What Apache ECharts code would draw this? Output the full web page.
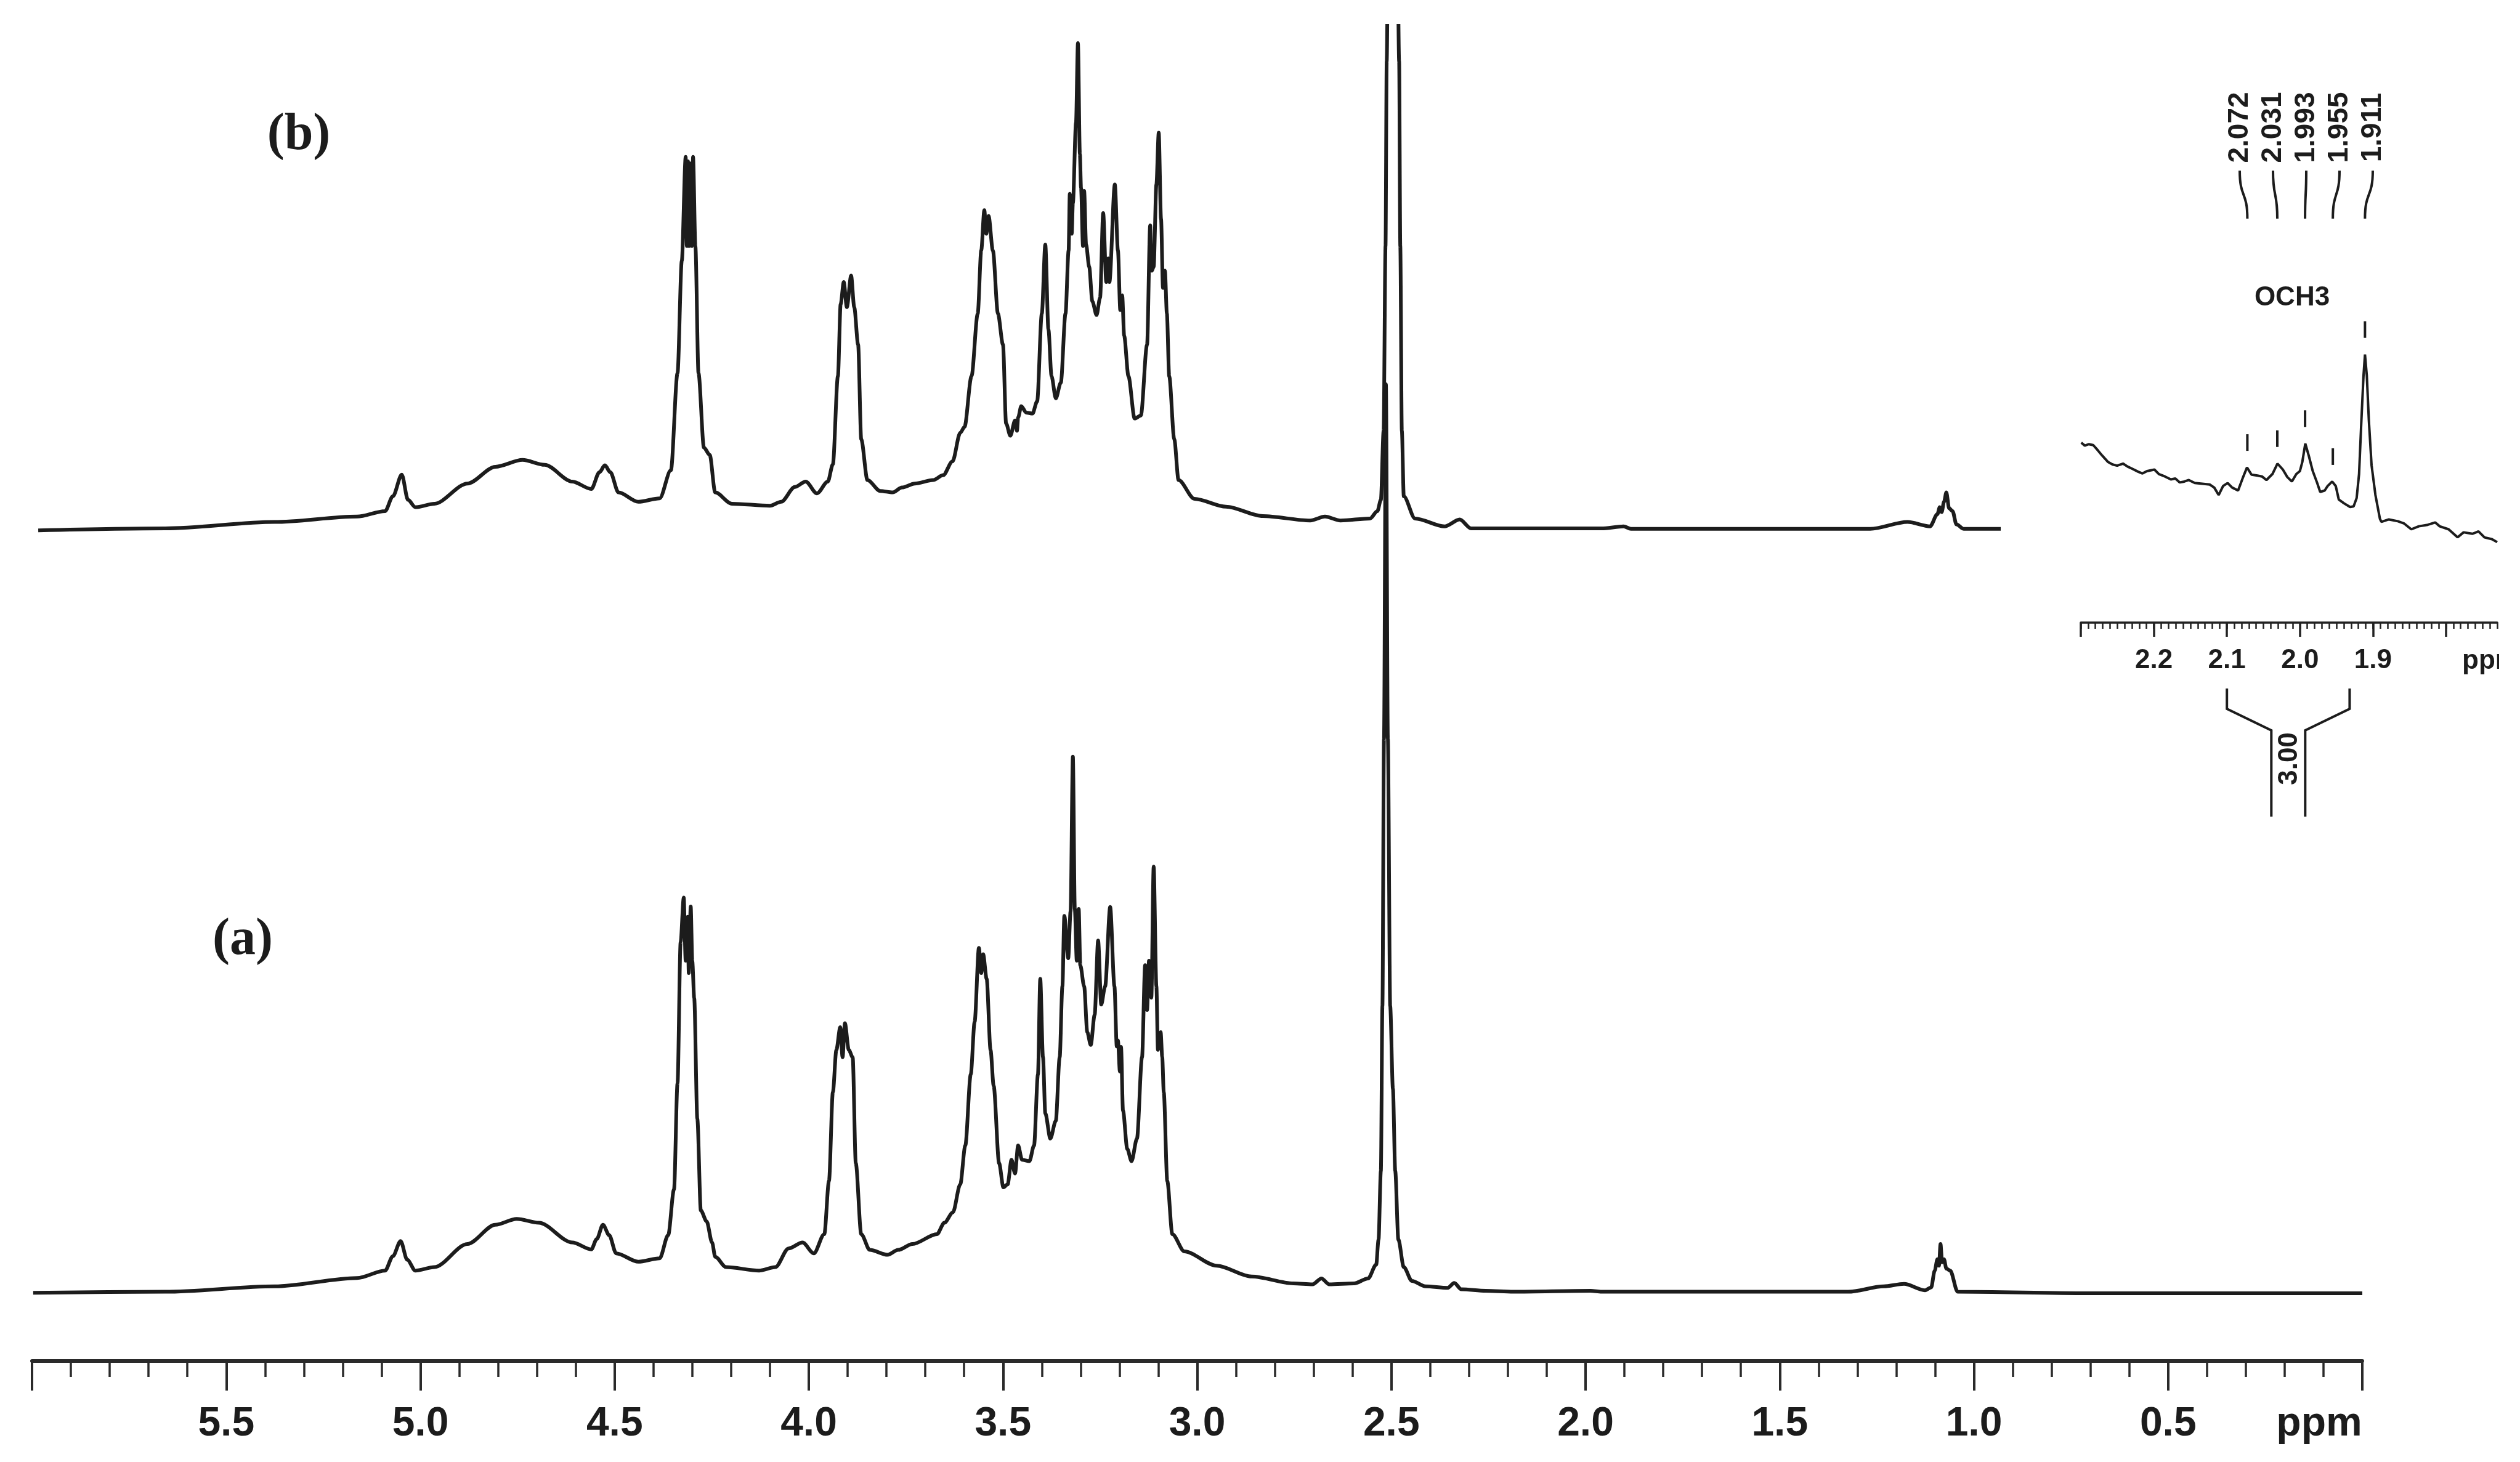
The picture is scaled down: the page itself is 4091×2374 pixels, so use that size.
<!DOCTYPE html>
<html><head><meta charset="utf-8">
<script src="https://cdn.jsdelivr.net/npm/echarts@6/dist/echarts.min.js"></script>
<style>html,body{margin:0;padding:0;background:#fff}#c{width:4091px;height:2374px}</style>
</head><body><div id="c"></div>
<script>
// ---- data: [ppm, relative intensity] ----
const spectrumA = [[5.997,0.1],[5.657,0.3],[5.375,1.4],[5.163,3.1],[5.091,4.6],[5.071,7.5],[5.051,10.6],[5.034,6.8],[5.013,4.6],[4.964,5.3],[4.879,10.0],[4.807,13.9],[4.752,15.1],[4.695,14.3],[4.609,10.3],[4.560,8.9],[4.546,11.0],[4.530,13.9],[4.514,11.8],[4.496,8.1],[4.439,6.4],[4.384,7.1],[4.362,11.8],[4.347,21.1],[4.338,42.6],[4.330,71.3],[4.322,80.3],[4.317,67.5],[4.312,76.4],[4.309,65.0],[4.304,78.5],[4.300,67.5],[4.295,59.9],[4.287,35.4],[4.278,16.8],[4.263,14.6],[4.249,10.3],[4.241,7.4],[4.213,5.3],[4.128,4.6],[4.086,5.3],[4.052,9.1],[4.016,10.3],[3.987,8.1],[3.960,12.0],[3.948,22.8],[3.938,40.8],[3.929,49.4],[3.919,54.0],[3.913,47.9],[3.907,54.8],[3.897,49.4],[3.887,47.9],[3.879,26.4],[3.865,12.0],[3.843,8.8],[3.797,7.8],[3.770,8.8],[3.733,10.0],[3.670,12.0],[3.651,14.3],[3.629,16.4],[3.610,22.1],[3.597,30.0],[3.583,44.4],[3.573,55.1],[3.562,70.1],[3.556,65.0],[3.551,68.8],[3.542,63.8],[3.532,49.4],[3.524,42.1],[3.510,26.4],[3.499,21.5],[3.488,22.1],[3.478,27.1],[3.469,24.3],[3.461,30.0],[3.451,27.1],[3.432,26.8],[3.420,30.0],[3.410,44.4],[3.404,63.8],[3.397,47.9],[3.391,36.5],[3.378,31.4],[3.364,35.0],[3.354,47.9],[3.347,62.3],[3.342,76.6],[3.332,68.0],[3.326,77.5],[3.320,108.9],[3.315,78.0],[3.310,67.5],[3.305,78.0],[3.301,66.6],[3.291,62.3],[3.283,53.0],[3.274,50.4],[3.264,56.5],[3.255,71.6],[3.247,58.6],[3.237,62.3],[3.224,78.4],[3.213,62.3],[3.207,50.1],[3.204,51.3],[3.199,45.0],[3.196,50.0],[3.191,37.1],[3.180,29.3],[3.169,26.8],[3.155,31.4],[3.142,47.9],[3.134,66.6],[3.129,57.5],[3.124,67.5],[3.118,60.0],[3.112,86.6],[3.105,62.3],[3.101,49.4],[3.094,53.0],[3.090,48.0],[3.086,40.8],[3.077,22.8],[3.064,12.0],[3.033,8.5],[2.950,5.6],[2.860,3.4],[2.752,2.0],[2.703,1.8],[2.680,3.0],[2.660,1.8],[2.596,2.0],[2.560,3.0],[2.539,5.8],[2.533,10.9],[2.527,24.8],[2.523,58.3],[2.519,112.5],[2.514,184.5],[2.509,112.5],[2.503,58.3],[2.496,41.5],[2.490,24.8],[2.482,10.9],[2.468,5.3],[2.447,2.5],[2.412,1.4],[2.355,1.1],[2.338,2.1],[2.320,0.8],[2.257,0.5],[2.186,0.3],[1.987,0.5],[1.959,0.3],[1.324,0.3],[1.232,1.4],[1.180,1.9],[1.126,0.6],[1.110,1.2],[1.101,4.6],[1.094,6.9],[1.090,5.6],[1.086,10.0],[1.082,6.3],[1.077,6.9],[1.071,5.0],[1.061,4.6],[1.042,0.3],[0.706,0.0],[0.0,0.0]];

const spectrumB = [[5.984,0.1],[5.657,0.5],[5.375,1.8],[5.163,2.9],[5.091,4.0],[5.071,7.0],[5.048,11.4],[5.032,6.3],[5.013,4.8],[4.964,5.5],[4.879,9.6],[4.807,13.0],[4.737,14.4],[4.680,13.4],[4.609,10.0],[4.560,8.5],[4.539,11.9],[4.525,13.3],[4.511,11.9],[4.490,7.8],[4.439,5.9],[4.384,6.6],[4.355,12.3],[4.338,32.0],[4.327,54.8],[4.317,75.9],[4.314,57.8],[4.311,75.0],[4.308,57.8],[4.304,74.6],[4.301,57.8],[4.298,75.9],[4.292,57.8],[4.284,32.0],[4.270,16.9],[4.255,15.4],[4.241,7.8],[4.198,5.5],[4.100,5.1],[4.071,5.9],[4.036,8.9],[4.008,10.0],[3.979,7.6],[3.951,10.0],[3.938,13.5],[3.925,31.4],[3.918,46.0],[3.910,50.5],[3.902,45.4],[3.891,51.8],[3.883,45.4],[3.873,37.8],[3.865,18.6],[3.849,10.3],[3.816,8.1],[3.784,7.8],[3.760,8.8],[3.727,9.6],[3.680,10.3],[3.654,11.3],[3.630,14.1],[3.610,19.9],[3.599,21.1],[3.581,31.4],[3.565,44.1],[3.556,56.9],[3.548,65.1],[3.543,60.3],[3.537,63.9],[3.526,56.9],[3.513,44.1],[3.500,37.8],[3.492,21.8],[3.481,19.3],[3.469,22.4],[3.464,20.3],[3.461,23.0],[3.453,25.3],[3.440,24.0],[3.424,23.8],[3.412,26.3],[3.400,44.1],[3.391,58.1],[3.383,40.9],[3.375,31.4],[3.364,26.9],[3.351,30.1],[3.339,44.1],[3.331,56.9],[3.328,68.4],[3.323,60.3],[3.320,66.5],[3.312,82.8],[3.307,99.0],[3.302,76.5],[3.299,69.6],[3.294,57.8],[3.291,69.0],[3.286,58.1],[3.278,53.6],[3.270,46.6],[3.259,43.8],[3.250,47.3],[3.242,64.5],[3.234,50.5],[3.229,55.3],[3.226,50.5],[3.212,70.3],[3.204,56.9],[3.198,44.8],[3.193,47.8],[3.188,39.6],[3.177,31.4],[3.161,22.8],[3.145,23.4],[3.129,37.8],[3.121,62.0],[3.117,52.8],[3.112,53.6],[3.105,70.3],[3.099,80.8],[3.093,63.3],[3.088,49.3],[3.083,52.8],[3.078,44.1],[3.072,31.4],[3.059,18.6],[3.048,10.3],[3.007,6.5],[2.926,4.9],[2.831,3.0],[2.709,2.1],[2.671,2.9],[2.631,2.1],[2.555,2.5],[2.536,4.0],[2.527,6.3],[2.520,20.3],[2.515,57.8],[2.512,95.3],[2.506,145],[2.496,220],[2.487,145],[2.480,95.3],[2.477,57.8],[2.473,20.3],[2.468,7.0],[2.439,2.5],[2.363,0.9],[2.324,2.3],[2.295,0.5],[2.132,0.5],[1.959,0.5],[1.902,0.9],[1.883,0.4],[1.267,0.4],[1.171,1.8],[1.113,0.9],[1.094,3.4],[1.088,4.8],[1.083,3.8],[1.077,5.9],[1.071,7.8],[1.064,4.6],[1.055,4.0],[1.045,1.3],[1.026,0.4],[0.931,0.4]];

const insetSpectrum = [[2.2994,55.92],[2.2945,54.43],[2.2892,55.17],[2.2830,54.72],[2.2769,52.18],[2.2708,49.49],[2.2626,46.19],[2.2565,44.99],[2.2503,44.39],[2.2422,45.44],[2.2360,43.94],[2.2299,42.89],[2.2217,41.39],[2.2156,40.49],[2.2094,41.69],[2.1992,42.44],[2.1931,40.19],[2.1849,38.99],[2.1767,37.49],[2.1706,37.94],[2.1645,35.99],[2.1583,36.44],[2.1522,37.20],[2.1440,35.70],[2.1358,35.40],[2.1236,34.95],[2.1174,33.45],[2.1113,29.70],[2.1052,34.20],[2.0990,35.70],[2.0929,33.45],[2.0847,31.95],[2.0786,37.94],[2.0725,43.49],[2.0663,39.89],[2.0582,39.44],[2.0520,38.99],[2.0459,37.20],[2.0377,40.19],[2.0308,45.44],[2.0234,42.44],[2.0173,38.69],[2.0111,36.44],[2.0050,40.19],[2.0001,41.69],[1.9968,46.19],[1.9927,55.47],[1.9878,49.19],[1.9825,41.69],[1.9764,35.70],[1.9723,31.21],[1.9661,31.95],[1.9621,34.20],[1.9559,36.44],[1.9510,34.20],[1.9469,27.46],[1.9396,25.51],[1.9314,23.71],[1.9265,24.02],[1.9224,28.21],[1.9191,40.19],[1.9159,67.16],[1.9130,89.63],[1.9110,100.11],[1.9085,89.63],[1.9057,67.16],[1.9020,44.69],[1.8967,29.70],[1.8905,17.73],[1.8885,16.25],[1.8783,17.45],[1.8660,16.55],[1.8578,15.50],[1.8476,12.50],[1.8374,14.00],[1.8251,14.75],[1.8149,15.95],[1.8087,14.00],[1.7965,12.50],[1.7842,8.46],[1.7760,11.00],[1.7638,10.26],[1.7556,11.45],[1.7474,8.46],[1.7372,7.56],[1.7300,6.06]];

const mainAxisUnit = 'ppm';
const insetMajorTicks = [2.3, 2.2, 2.1, 2.0, 1.9, 1.8];
const insetTickLabels = [2.2, 2.1, 2.0, 1.9];
const insetPeakPpm = [2.072, 2.031, 1.993, 1.955, 1.911];
const insetPeakLabels = ['2.072', '2.031', '1.993', '1.955', '1.911'];
const insetPeakHeight = [43.49, 45.44, 55.47, 36.44, 100.11];
const insetGroupLabel = 'OCH3';
const integralRange = [2.10, 1.932];
const integralLabel = '3.00';
const spectrumLabels = ['(a)', '(b)'];

// ---- chart ----
const SANS = '"Liberation Sans", Arial, Helvetica, sans-serif';
const SERIF = '"Liberation Serif", "Times New Roman", serif';
const INK = '#1c1c1c';
const chart = echarts.init(document.getElementById('c'), null, {renderer: 'canvas'});

const option = {
  animation: false,
  backgroundColor: '#ffffff',
  grid: [
    {left: 52, right: 256, top: 500, bottom: 274},
    {left: 52, right: 256, top: 42, bottom: 1496},
    {left: 3378, right: 37, top: 576, bottom: 1474}
  ],
  xAxis: [
    {gridIndex: 0, type: 'value', position: 'bottom', min: 0, max: 6, interval: 0.5, inverse: true, offset: 110,
     axisLine: {show: true, onZero: false, lineStyle: {color: '#2a2a2a', width: 6}},
     axisTick: {show: true, length: 48, lineStyle: {color: '#2a2a2a', width: 4}},
     minorTick: {show: true, splitNumber: 5, length: 26, lineStyle: {color: '#2a2a2a', width: 3.5}},
     splitLine: {show: false}, minorSplitLine: {show: false},
     axisLabel: {margin: 70, fontSize: 66, fontWeight: 'bold', fontFamily: SANS, color: INK,
       formatter: function (v) {
         if (Math.abs(v) < 1e-9) return '{u|' + mainAxisUnit + '}';
         if (Math.abs(v - 6) < 1e-9) return '';
         return v.toFixed(1);
       },
       rich: {u: {fontSize: 66, fontWeight: 'bold', fontFamily: SANS, color: INK, padding: [0, 140, 0, 0]}}
     }},
    {gridIndex: 1, type: 'value', position: 'bottom', min: 0, max: 6, inverse: true, show: false},
    {gridIndex: 2, type: 'value', position: 'bottom', min: 1.73, max: 2.30, inverse: true, offset: 111,
     axisLine: {show: true, onZero: false, lineStyle: {color: '#222', width: 3.5}},
     axisTick: {show: true, customValues: insetMajorTicks, length: 23, lineStyle: {color: '#222', width: 3.5}},
     splitLine: {show: false},
     axisLabel: {customValues: insetTickLabels, margin: 40, fontSize: 44, fontWeight: 'bold', fontFamily: SANS, color: INK,
       formatter: function (v) { return v.toFixed(1); }}},
    {gridIndex: 2, type: 'value', position: 'bottom', min: 1.73, max: 2.30, interval: 0.01, inverse: true, offset: 111,
     axisLine: {show: false, onZero: false},
     axisTick: {show: true, length: 10, lineStyle: {color: '#222', width: 2.5}},
     splitLine: {show: false}, axisLabel: {show: false}}
  ],
  yAxis: [
    {gridIndex: 0, type: 'value', min: 0, max: 200, show: false, splitLine: {show: false}},
    {gridIndex: 1, type: 'value', min: -2, max: 102.5, show: false, splitLine: {show: false}},
    {gridIndex: 2, type: 'value', min: 0, max: 100, show: false, splitLine: {show: false}}
  ],
  series: [
    {name: 'a', type: 'line', xAxisIndex: 0, yAxisIndex: 0, data: spectrumA, showSymbol: false, clip: false,
     smooth: 0.3, smoothMonotone: 'x', lineStyle: {color: INK, width: 6}, silent: true},
    {name: 'b', type: 'line', xAxisIndex: 1, yAxisIndex: 1, data: spectrumB, showSymbol: false, clip: true,
     smooth: 0.3, smoothMonotone: 'x', lineStyle: {color: INK, width: 6}, silent: true},
    {name: 'inset', type: 'line', xAxisIndex: 2, yAxisIndex: 2, data: insetSpectrum, showSymbol: false, clip: false,
     lineStyle: {color: INK, width: 4}, silent: true}
  ]
};
chart.setOption(option);

// ---- annotations (positions derived from the inset's own scales) ----
function ip(p) { return chart.convertToPixel({xAxisIndex: 2, yAxisIndex: 2}, p); }
const g = [];
function txt(x, y, t, size, fam, rot, weight) {
  g.push({type: 'text', x: x, y: y, rotation: rot || 0, z: 10,
    style: {text: t, fontSize: size, fontWeight: weight || 'bold', fontFamily: fam, fill: INK, align: 'center', verticalAlign: 'middle'}});
}
// spectrum labels
txt(394, 1527, spectrumLabels[0], 84, SERIF);
txt(485, 220, spectrumLabels[1], 84, SERIF);
// inset peak labels and connectors
const labelTopY = 151, labelBottomY = 263;
const centerLabelX = 3744, labelStep = 54;
insetPeakPpm.forEach(function (ppm, i) {
  const lx = centerLabelX + (i - (insetPeakPpm.length - 1) / 2) * labelStep;
  txt(lx, (labelTopY + labelBottomY) / 2, insetPeakLabels[i], 46, SANS, Math.PI / 2);
  const px = ip([ppm, 0])[0];
  g.push({type: 'bezierCurve', z: 10, shape: {x1: lx, y1: 277, cpx1: lx, cpy1: 322, cpx2: px, cpy2: 310, x2: px, y2: 355},
    style: {stroke: INK, lineWidth: 4, fill: null}});
  const top = ip([ppm, insetPeakHeight[i]]);
  g.push({type: 'line', z: 10, shape: {x1: top[0], y1: top[1] - 54, x2: top[0], y2: top[1] - 27},
    style: {stroke: INK, lineWidth: 4}});
});
txt(3721, 484, insetGroupLabel, 44, SANS);
// inset axis unit (cut by the picture edge)
g.push({type: 'text', x: 3997, y: 1074, z: 10,
  style: {text: 'ppm', fontSize: 44, fontWeight: 'bold', fontFamily: SANS, fill: INK, align: 'left', verticalAlign: 'middle'}});
g.push({type: 'rect', z: 20, shape: {x: 4057, y: 1030, width: 40, height: 90}, style: {fill: '#ffffff'}});
// integral bracket
const ixL = ip([integralRange[0], 0])[0], ixR = ip([integralRange[1], 0])[0];
const mid = (ixL + ixR) / 2;
g.push({type: 'polyline', z: 10, shape: {points: [[ixL, 1118], [ixL, 1151], [mid - 27.5, 1186], [mid - 27.5, 1326]]},
  style: {stroke: INK, lineWidth: 4, fill: null}});
g.push({type: 'polyline', z: 10, shape: {points: [[ixR, 1118], [ixR, 1151], [mid + 27.5, 1186], [mid + 27.5, 1326]]},
  style: {stroke: INK, lineWidth: 4, fill: null}});
txt(mid + 2, 1232, integralLabel, 44, SANS, Math.PI / 2);

chart.setOption({graphic: g});
</script>
</body></html>
